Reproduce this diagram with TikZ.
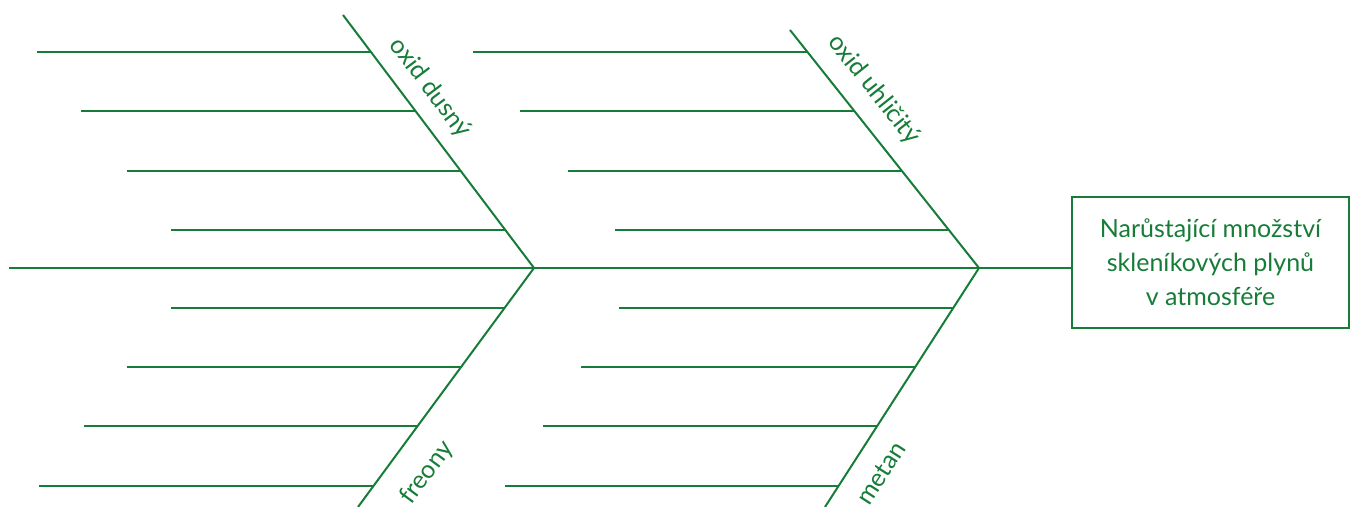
\documentclass[tikz,border=0pt]{standalone}
\usepackage{fontspec}
\setmainfont{Lato}
\usetikzlibrary{positioning}
\definecolor{fishgreen}{RGB}{22,124,56}

\begin{document}
\begin{tikzpicture}[x=0.5pt, y=0.5pt,
  bone/.style={draw=fishgreen, line width=1pt},
  rib/.style={draw=fishgreen, line width=1pt},
  cause/.style={text=fishgreen, font=\fontsize{12.5}{15}\selectfont, inner sep=0pt},
  effectbox/.style={draw=fishgreen, line width=1pt, text=fishgreen, align=center,
              font=\fontsize{12.5}{17}\selectfont, minimum width=138.5pt, minimum height=65.5pt}
]
\useasboundingbox (0,0) rectangle (1350,507);
% effect at the head of the fish
\node[effectbox] (effect) at (1210.5,244.5) {Narůstající množství\\skleníkových plynů\\v atmosféře};
% spine
\coordinate (tail) at (9,239);
\draw[bone] (tail) -- (tail -| effect.west);
% main bones
\coordinate (lhead) at (534,239);
\coordinate (rhead) at (979,239);
\coordinate (ltop) at (343,492);
\coordinate (lbot) at (358,0);
\coordinate (rtop) at (790,477);
\coordinate (rbot) at (825,0);
\draw[bone] (ltop) -- (lhead) -- (lbot);
\draw[bone] (rtop) -- (rhead) -- (rbot);
% ribs, all 334 long
\foreach \yy in {277.3,336.3,396.3,455.3} {
  \draw[rib] (intersection of ltop--lhead and 0,\yy--1,\yy) -- ++(-334,0);
  \draw[rib] (intersection of rtop--rhead and 0,\yy--1,\yy) -- ++(-334,0);
}
\foreach \yy in {199.3,139.7,81,21} {
  \draw[rib] (intersection of lbot--lhead and 0,\yy--1,\yy) -- ++(-334,0);
  \draw[rib] (intersection of rbot--rhead and 0,\yy--1,\yy) -- ++(-334,0);
}
% cause labels
\node[cause, rotate=-53] (dusny) at (430,419) {oxid dusný};
\node[cause, rotate=-51.5] (uhlicity) at (874,417) {oxid uhličitý};
\node[cause, rotate=53.6] (freony) at (427,34) {freony};
\node[cause, rotate=57.2] (metan) at (881,34) {metan};
\end{tikzpicture}
\end{document}
